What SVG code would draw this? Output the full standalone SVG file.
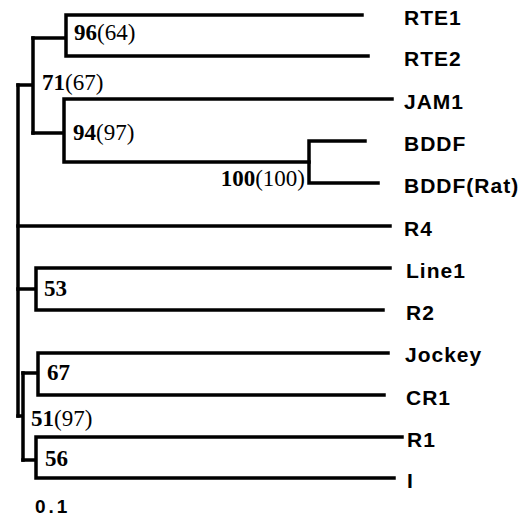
<svg xmlns="http://www.w3.org/2000/svg" width="525" height="517" viewBox="0 0 525 517">
<style>
.e{fill:none;stroke:#000;stroke-width:3.5;stroke-linecap:square;stroke-linejoin:miter}
.lf{font-family:"Liberation Sans",Arial,sans-serif;font-weight:bold;font-size:21px;letter-spacing:1px;fill:#000}
.bs{font-family:"Liberation Serif","Times New Roman",serif;font-size:23px;fill:#000}
.bs .b{font-weight:bold}
.sc{font-family:"Liberation Sans",Arial,sans-serif;font-weight:bold;font-size:19px;letter-spacing:3px;fill:#000}
</style>
<rect width="525" height="517" fill="#fff"/>
<g id="connectors">
<path class="e" d="M18,85V416"/>
<path class="e" d="M18,85H33M33,38V133"/>
<path class="e" d="M33,38H66M66,15V56M66,15H362M66,56H368"/>
<path class="e" d="M33,133H64M64,99V162M64,99H392M64,162H309"/>
<path class="e" d="M309,141V183M309,141H365M309,183H378"/>
<path class="e" d="M18,226H390"/>
<path class="e" d="M18,289H36M36,268V310M36,268H390M36,310H383"/>
<path class="e" d="M18,416H23M23,373V460"/>
<path class="e" d="M23,373H38M38,353V395M38,353H388M38,395H384"/>
<path class="e" d="M23,460H36M36,437V478M36,437H402M36,478H394"/>
</g>
<g id="n96"><text class="bs" x="74" y="40"><tspan class="b">96</tspan>(64)</text></g>
<g id="n71"><text class="bs" x="42" y="90"><tspan class="b">71</tspan>(67)</text></g>
<g id="n94"><text class="bs" x="73" y="140"><tspan class="b">94</tspan>(97)</text></g>
<g id="n100"><text class="bs" x="305" y="186" text-anchor="end"><tspan class="b">100</tspan>(100)</text></g>
<g id="n53"><text class="bs" x="44" y="296"><tspan class="b">53</tspan></text></g>
<g id="n67"><text class="bs" x="47" y="380"><tspan class="b">67</tspan></text></g>
<g id="n51"><text class="bs" x="31" y="426"><tspan class="b">51</tspan>(97)</text></g>
<g id="n56"><text class="bs" x="45" y="466"><tspan class="b">56</tspan></text></g>
<g id="RTE1"><text class="lf" x="404" y="25">RTE1</text></g>
<g id="RTE2"><text class="lf" x="404" y="66">RTE2</text></g>
<g id="JAM1"><text class="lf" x="404" y="109">JAM1</text></g>
<g id="BDDF"><text class="lf" x="404" y="151">BDDF</text></g>
<g id="BDDF_Rat"><text class="lf" x="404" y="193">BDDF(Rat)</text></g>
<g id="R4"><text class="lf" x="404" y="236">R4</text></g>
<g id="Line1"><text class="lf" x="406" y="278">Line1</text></g>
<g id="R2"><text class="lf" x="406" y="320">R2</text></g>
<g id="Jockey"><text class="lf" x="405" y="362">Jockey</text></g>
<g id="CR1"><text class="lf" x="406" y="405">CR1</text></g>
<g id="R1"><text class="lf" x="407" y="447">R1</text></g>
<g id="I"><text class="lf" x="407" y="488">I</text></g>
<g id="scale"><text class="sc" x="35" y="513">0.1</text></g>
</svg>
